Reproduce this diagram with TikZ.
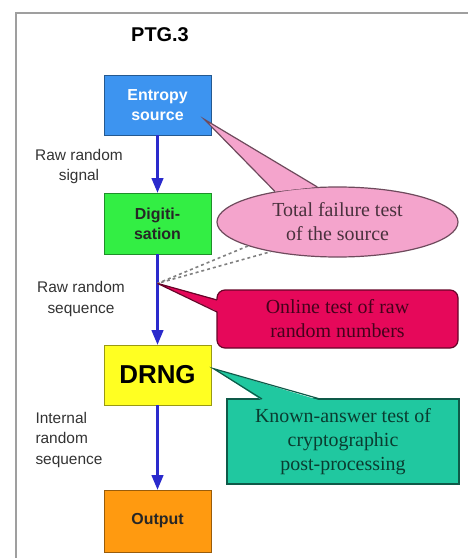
\documentclass[tikz,border=0pt]{standalone}
\usepackage{fontspec}
\setmainfont{Liberation Serif}
\setsansfont{Liberation Sans}
\usetikzlibrary{arrows,calc,shapes.geometric}

\definecolor{srcblue}{HTML}{3D94F0}
\definecolor{diggreen}{HTML}{33EE44}
\definecolor{drngyellow}{HTML}{FFFF22}
\definecolor{outorange}{HTML}{FF9A10}
\definecolor{failpink}{HTML}{F4A4CC}
\definecolor{onlinered}{HTML}{E6085A}
\definecolor{katteal}{HTML}{20C8A0}
\definecolor{flowblue}{HTML}{2A2ACC}

\begin{document}
\begin{tikzpicture}[x=1bp,y=-1bp,
  blk/.style={draw=#1!60!black, fill=#1, line width=0.8bp, minimum width=107bp,
    minimum height=60bp, inner sep=0pt, align=center,
    font=\sffamily\bfseries\fontsize{16}{20}\selectfont},
  side/.style={text=black!80, align=center, font=\sffamily\fontsize{15.5}{21}\selectfont},
  note/.style={draw=#1!45!black, fill=#1, text=#1!30!black, line width=1.2bp,
    inner sep=0pt, align=center, font=\fontsize{20}{24}\selectfont},
  tail/.style={draw=#1!45!black, line width=1.2bp},
  flow/.style={-triangle 45, draw=flowblue, line width=2.4bp}]
\useasboundingbox (0,0) rectangle (468,558);

\draw[gray!75, line width=2.5bp] (16,560) |- (470,13);
\node[font=\sffamily\bfseries\fontsize{20}{24}\selectfont] (title) at (160,35) {PTG.3};

% Define the main chain.
\node[blk=srcblue, text=white] (src) at (157.5,105) {Entropy\\source};
\node[blk=diggreen, text=black!85, minimum height=61bp] (dig) at (157.5,223.5) {Digiti-\\sation};
\node[blk=drngyellow, text=black, font=\sffamily\bfseries\fontsize{26}{30}\selectfont] (drng) at (157.5,375) {DRNG};
\node[blk=outorange, text=black!85, minimum height=62bp] (out) at (157.5,521) {Output};

\draw[flow] (src) -- (dig);
\draw[flow] (dig) -- (drng);
\draw[flow] (drng) -- (out);

\node[side] (sig) at (79,166.5) {Raw random\\signal};
\node[side] (seq) at (81,299) {Raw random\\sequence};
\node[side, align=left, anchor=west] (int) at (32,440) {Internal\\random\\sequence};

\coordinate (tap) at ($(dig.south)+(0,29)$);
\coordinate (tipsrc) at ($(src.south east)+(-7,-16)$);
\coordinate (tipdrng) at ($(drng.north east)+(2,24)$);

% The tests.
\node[note=failpink, ellipse, minimum width=241bp, minimum height=70bp] (fail) at (337.5,222) {Total failure test\\of the source};
\node[note=onlinered, rounded corners=8bp, minimum width=241bp, minimum height=58bp] (online) at (337.5,319) {Online test of raw\\random numbers};
\node[note=katteal, minimum width=232bp, minimum height=85bp] (kat) at (343,441.5) {Known-answer test of\\cryptographic\\post-processing};

\fill[failpink] (fail.154) -- (tipsrc) -- (fail.120) -- cycle;
\draw[tail=failpink] (fail.154) -- (tipsrc) -- (fail.120);
\draw[dashed, gray, line width=1.6bp] (fail.195) -- (tap) -- (fail.204);

\fill[onlinered] ($(online.west)+(2,-19)$) -- (tap) -- ($(online.west)+(2,-7)$) -- cycle;
\draw[tail=onlinered] ($(online.west)+(0.6,-19)$) -- (tap) -- ($(online.west)+(0.6,-7)$);

\fill[katteal] ($(kat.north)+(-81,2)$) -- (tipdrng) -- ($(kat.north)+(-23,2)$) -- cycle;
\draw[tail=katteal] ($(kat.north)+(-81,0.6)$) -- (tipdrng) -- ($(kat.north)+(-23,0.6)$);

\end{tikzpicture}
\end{document}
